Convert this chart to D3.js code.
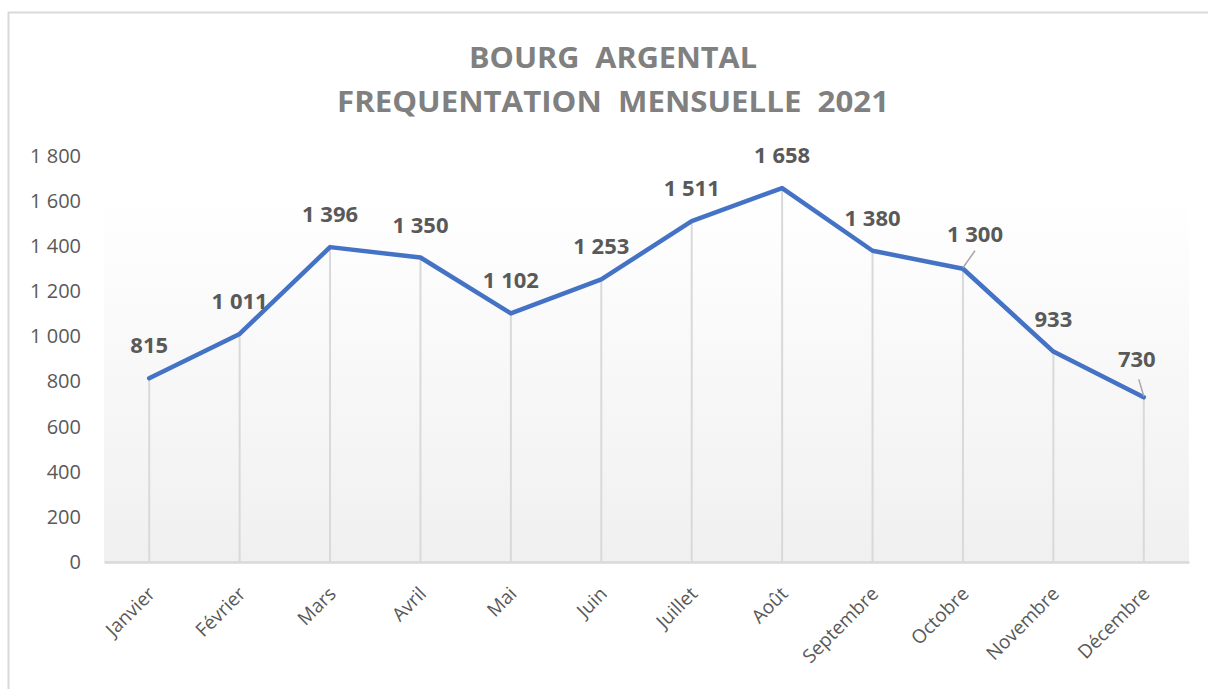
<!DOCTYPE html>
<html>
<head>
<meta charset="utf-8">
<script src="https://cdn.jsdelivr.net/npm/d3@7"></script>
<style>
    body { margin: 0; background: #fff; }
    svg { display: block; }
    text { font-family: "Open Sans", "Liberation Sans", sans-serif; }
</style>
</head>
<body>
<div id="chart"></div>
<script>
const months = ["Janvier", "Février", "Mars", "Avril", "Mai", "Juin",
    "Juillet", "Août", "Septembre", "Octobre", "Novembre", "Décembre"];
const visits = [815, 1011, 1396, 1350, 1102, 1253, 1511, 1658, 1380, 1300, 933, 730];
const yTicks = [0, 200, 400, 600, 800, 1000, 1200, 1400, 1600, 1800];
const titleLines = ["BOURG  ARGENTAL", "FREQUENTATION  MENSUELLE  2021"];

const W = 1208, H = 689;
const plotLeft = 104, plotRight = 1189, plotTop = 156, plotBottom = 562;

// labels excel pushed aside (with a leader line)
const nudged = { "Octobre": [12, -2], "Décembre": [-7, -5] };

const fmt = v => d3.format(",")(v).replace(/,/g, " ");

const svg = d3.select("#chart").append("svg")
    .attr("width", W)
    .attr("height", H);

// chart frame (only top and left edges are in the shot)
svg.append("path")
    .attr("d", `M8.5,${H} V12.5 H${W}`)
    .attr("fill", "none")
    .attr("stroke", "#d9d9d9")
    .attr("stroke-width", 2);

const grad = svg.append("defs").append("linearGradient")
    .attr("id", "bg")
    .attr("x1", 0).attr("y1", 0).attr("x2", 0).attr("y2", 1);
grad.append("stop").attr("offset", "0%").attr("stop-color", "#ffffff");
grad.append("stop").attr("offset", "100%").attr("stop-color", "#f0f0f0");

svg.append("rect")
    .attr("x", plotLeft)
    .attr("y", 195)
    .attr("width", plotRight - plotLeft)
    .attr("height", plotBottom - 195)
    .attr("fill", "url(#bg)");

const x = d3.scaleBand().domain(months).range([plotLeft, plotRight]);
const y = d3.scaleLinear().domain([0, 1800]).range([plotBottom, plotTop]);

// title
svg.append("g").selectAll("text")
    .data(titleLines)
    .join("text")
    .attr("x", 613)
    .attr("y", (d, i) => 68 + i * 44)
    .attr("text-anchor", "middle")
    .attr("font-size", 29)
    .attr("font-weight", "bold")
    .attr("fill", "#808080")
    .attr("textLength", (d, i) => i === 0 ? 288 : 552)
    .attr("lengthAdjust", "spacingAndGlyphs")
    .style("white-space", "pre")
    .text(d => d);

// y axis labels
const yAxis = svg.append("g")
    .attr("transform", `translate(${plotLeft},0)`)
    .call(d3.axisLeft(y).tickValues(yTicks).tickFormat(fmt).tickSize(0).tickPadding(23));
yAxis.select(".domain").remove();
yAxis.selectAll("text")
    .attr("font-size", 20)
    .attr("fill", "#595959")
    .attr("font-family", "'Open Sans', sans-serif");

// drop lines
svg.append("g").selectAll("line")
    .data(months)
    .join("line")
    .attr("x1", d => x(d) + x.bandwidth() / 2)
    .attr("x2", d => x(d) + x.bandwidth() / 2)
    .attr("y1", (d, i) => y(visits[i]))
    .attr("y2", plotBottom)
    .attr("stroke", "#d9d9d9")
    .attr("stroke-width", 2);

// x axis
const xAxis = svg.append("g")
    .attr("transform", `translate(0,${plotBottom})`)
    .call(d3.axisBottom(x).tickSize(0).tickPadding(0));
xAxis.select(".domain")
    .attr("stroke", "#d9d9d9")
    .attr("stroke-width", 2.5);
xAxis.selectAll("text")
    .attr("font-size", 19)
    .attr("fill", "#595959")
    .attr("font-family", "'Open Sans', sans-serif")
    .attr("text-anchor", "end")
    .attr("dy", 0)
    .attr("transform", "translate(7,33) rotate(-45)");

// line
const line = d3.line()
    .x((d, i) => x(months[i]) + x.bandwidth() / 2)
    .y(d => y(d));

svg.append("path")
    .datum(visits)
    .attr("d", line)
    .attr("fill", "none")
    .attr("stroke", "#4472c4")
    .attr("stroke-width", 4.5)
    .attr("stroke-linejoin", "round")
    .attr("stroke-linecap", "round");

// leader lines
Object.keys(nudged).forEach(m => {
    const i = months.indexOf(m);
    const cx = x(m) + x.bandwidth() / 2, cy = y(visits[i]);
    const [dx] = nudged[m];
    svg.append("line")
        .attr("x1", cx)
        .attr("y1", cy - 1)
        .attr("x2", cx + (dx > 0 ? 12 : -5))
        .attr("y2", cy - 18)
        .attr("stroke", "#a6a6a6")
        .attr("stroke-width", 1.5);
});

// data labels
svg.append("g").selectAll("text")
    .data(visits)
    .join("text")
    .attr("x", (d, i) => x(months[i]) + x.bandwidth() / 2 + (nudged[months[i]] ? nudged[months[i]][0] : 0))
    .attr("y", (d, i) => y(d) - 25 + (nudged[months[i]] ? nudged[months[i]][1] : 0))
    .attr("text-anchor", "middle")
    .attr("font-size", 22)
    .attr("font-weight", "bold")
    .attr("fill", "#595959")
    .text(d => fmt(d));
</script>
</body>
</html>
